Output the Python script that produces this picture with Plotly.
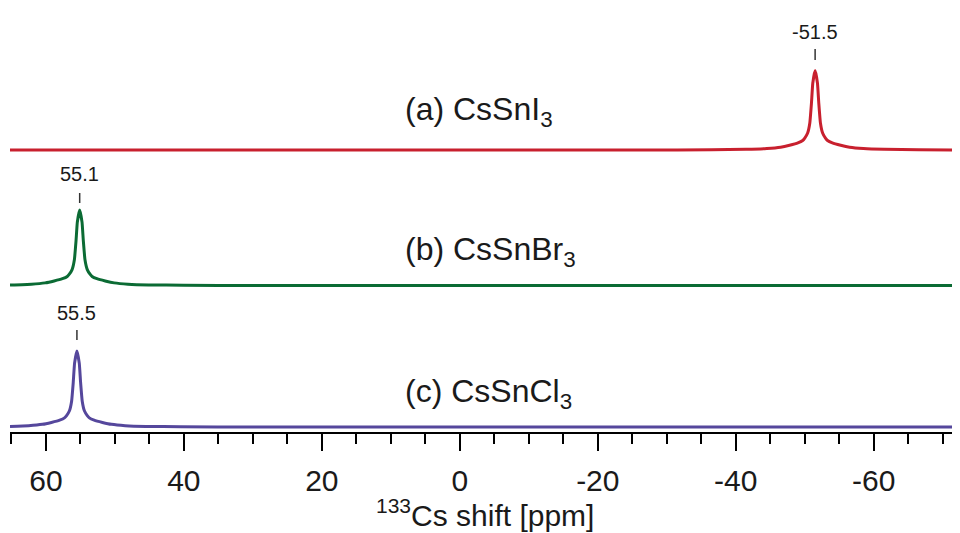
import plotly.graph_objects as go

# ---- data (ppm, normalised intensity) ----
ppm_a = [65.2, 20.0, -20.0, -26.5, -36.5, -41.5, -44.5, -46.5, -47.8, -49.0, -49.7, -50.0, -50.4,
         -50.73, -50.97, -51.16, -51.5, -51.84, -52.03, -52.27, -52.6, -53.0, -53.3, -54.0,
         -55.2, -56.5, -58.5, -61.5, -66.5, -72.5]
int_a = [0.0, 0.0, 0.0, 0.0, 0.003, 0.008, 0.018, 0.035, 0.06, 0.09, 0.12, 0.15, 0.21,
         0.34, 0.59, 0.84, 1.0, 0.84, 0.59, 0.34, 0.21, 0.15, 0.12, 0.09,
         0.06, 0.035, 0.018, 0.008, 0.003, 0.0]

ppm_b = [65.2, 62.1, 60.1, 58.8, 57.6, 56.9, 56.6, 56.2, 55.87, 55.63, 55.44, 55.1,
         54.76, 54.57, 54.33, 54.0, 53.6, 53.3, 52.6, 51.4, 50.1, 48.1, 45.1, 40.1,
         30.0, 0.0, -40.0, -72.5]
int_b = [0.007, 0.018, 0.035, 0.06, 0.09, 0.12, 0.15, 0.21, 0.34, 0.59, 0.84, 1.0,
         0.84, 0.59, 0.34, 0.21, 0.15, 0.12, 0.09, 0.06, 0.035, 0.018, 0.008, 0.003,
         0.0, 0.0, 0.0, 0.0]

ppm_c = [65.2, 62.5, 60.5, 59.2, 58.0, 57.3, 57.0, 56.6, 56.27, 56.03, 55.84, 55.5,
         55.16, 54.97, 54.73, 54.4, 54.0, 53.7, 53.0, 51.8, 50.5, 48.5, 45.5, 40.5,
         30.0, 0.0, -40.0, -72.5]
int_c = [0.008, 0.018, 0.035, 0.06, 0.09, 0.12, 0.15, 0.21, 0.34, 0.59, 0.84, 1.0,
         0.84, 0.59, 0.34, 0.21, 0.15, 0.12, 0.09, 0.06, 0.035, 0.018, 0.008, 0.003,
         0.0, 0.0, 0.0, 0.0]

tick_values = [60, 40, 20, 0, -20, -40, -60]
tick_labels = ["60", "40", "20", "0", "-20", "-40", "-60"]

peak_labels = ["-51.5", "55.1", "55.5"]
peak_ppm = [-51.5, 55.1, 55.5]
sample_labels = ["(a) CsSnI<sub>3</sub>", "(b) CsSnBr<sub>3</sub>", "(c) CsSnCl<sub>3</sub>"]

# ---- layout constants ----
# the page body adds an 8 px offset, so the figure is laid out 8 px up/left
PAGE_OFF = 8
FIG_W = 960 - PAGE_OFF
FIG_H = 533 - PAGE_OFF
AXIS_Y = 432                      # axis line position in the window
PLOT_H = AXIS_Y - PAGE_OFF        # plot area height inside the figure
baseline = [AXIS_Y - 142, AXIS_Y - 277.5, AXIS_Y - 419]
height = [79.5, 75.5, 76]
colors = ["#c8202e", "#0b6b34", "#55479c"]
label_y = [AXIS_Y - 24, AXIS_Y - 166, AXIS_Y - 305]
tick_top = [AXIS_Y - 41, AXIS_Y - 185, AXIS_Y - 322]
tick_bot = [AXIS_Y - 52, AXIS_Y - 195, AXIS_Y - 332]
name_y = [AXIS_Y - 103, AXIS_Y - 243, AXIS_Y - 385]

spectra = [(ppm_a, int_a), (ppm_b, int_b), (ppm_c, int_c)]

fig = go.Figure()
for (xs, ys), b, h, c in zip(spectra, baseline, height, colors):
    fig.add_trace(go.Scatter(
        x=xs, y=[b + h * v for v in ys], mode="lines",
        line=dict(color=c, width=3, shape="spline", smoothing=0.4),
        hoverinfo="skip", showlegend=False, cliponaxis=False))

font = "Liberation Sans, Arial, Helvetica, sans-serif"
txt = "#1a1a1a"

annotations = []
shapes = []
for lbl, p, ly, t0, t1 in zip(peak_labels, peak_ppm, label_y, tick_top, tick_bot):
    annotations.append(dict(x=p, y=ly, xref="x", yref="y", text=lbl, showarrow=False,
                            font=dict(family=font, size=20, color=txt),
                            xanchor="center", yanchor="middle"))
    shapes.append(dict(type="line", xref="x", yref="y", x0=p, x1=p, y0=t0, y1=t1,
                       line=dict(color="#333333", width=1.5)))

for lbl, ny in zip(sample_labels, name_y):
    annotations.append(dict(x=8.3, y=ny, xref="x", yref="y", text=lbl, showarrow=False,
                            font=dict(family=font, size=32, color=txt),
                            xanchor="left", yanchor="middle"))

annotations.append(dict(x=0.5, y=-0.19, xref="paper", yref="paper",
                        text="<sup>133</sup>Cs shift [ppm]", showarrow=False,
                        font=dict(family=font, size=30, color=txt),
                        xanchor="center", yanchor="middle"))

fig.update_layout(
    width=FIG_W, height=FIG_H,
    margin=dict(l=10 - PAGE_OFF, r=0, t=0, b=FIG_H - PLOT_H, autoexpand=False),
    paper_bgcolor="white", plot_bgcolor="white",
    annotations=annotations, shapes=shapes,
    xaxis=dict(range=[65.2, -72.5], showgrid=False, zeroline=False, automargin=False,
               showline=True, linecolor="black", linewidth=2,
               ticks="outside", ticklen=17, tickwidth=2, tickcolor="black",
               tickmode="array", tickvals=tick_values, ticktext=tick_labels,
               ticklabelstandoff=4,
               tickfont=dict(family=font, size=30, color=txt),
               minor=dict(dtick=5, tick0=0, ticks="outside", ticklen=10, tickwidth=2,
                          tickcolor="black", showgrid=False)),
    yaxis=dict(range=[PAGE_OFF, AXIS_Y], visible=False, showgrid=False, zeroline=False),
)

fig.write_html("out.html")
